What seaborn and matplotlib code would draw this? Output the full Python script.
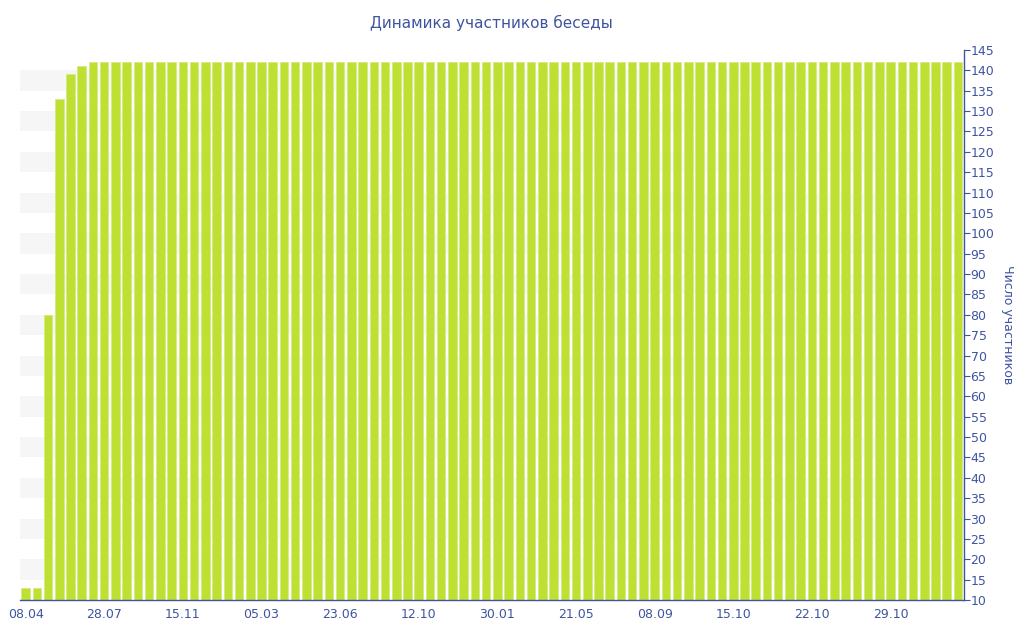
import matplotlib
matplotlib.use("Agg")
import matplotlib.pyplot as plt
import seaborn as sns
import pandas as pd

# ---- data ----
members = [13, 13, 80, 133, 139, 141] + [142] * 78
tick_labels = ["08.04", "28.07", "15.11", "05.03", "23.06", "12.10",
               "30.01", "21.05", "08.09", "15.10", "22.10", "29.10"]
tick_step = 7
y_ticks = list(range(10, 150, 5))
title = "Динамика участников беседы"
y_label = "Число участников"

TXT = "#3f54a0"
BAR = "#bde032"

sns.set_theme(style="white")
plt.rcParams['font.family'] = ['DejaVu Sans']

df = pd.DataFrame({"idx": list(range(len(members))), "members": members})

fig = plt.figure(figsize=(10.24, 6.4), dpi=100)
ax = fig.add_axes([0.0195, 0.0625, 0.9215, 0.8595])

sns.barplot(data=df, x="idx", y="members", color=BAR, saturation=1,
            width=0.76, ax=ax, zorder=2)
for p in ax.patches:
    p.set_edgecolor("#d4ea80")
    p.set_linewidth(0.5)

# alternating background bands
for lo in range(15, 140, 10):
    ax.axhspan(lo, lo + 5, facecolor="#f6f6f6", edgecolor="none", zorder=0, lw=0)

ax.set_xlim(-0.5, len(members) - 0.5)
ax.set_ylim(10, 145)

ax.set_xticks([i * tick_step for i in range(len(tick_labels))])
ax.set_xticklabels(tick_labels)

ax.yaxis.tick_right()
ax.yaxis.set_label_position("right")
ax.set_yticks(y_ticks)
ax.set_yticklabels([str(v) for v in y_ticks])

ax.tick_params(axis="both", colors=TXT, labelsize=9, length=4, width=0.8,
               direction="out", pad=1)
ax.tick_params(axis="x", pad=2)
ax.set_xlabel("")
ax.set_ylabel(y_label, color=TXT, fontsize=9, rotation=-90, labelpad=14)
ax.set_title(title, color=TXT, fontsize=11, pad=16)

for s in ["top", "left"]:
    ax.spines[s].set_visible(False)
for s in ["right", "bottom"]:
    ax.spines[s].set_visible(True)
    ax.spines[s].set_color(TXT)
    ax.spines[s].set_linewidth(1)
ax.grid(False)

fig.savefig("out.png", dpi=100)
